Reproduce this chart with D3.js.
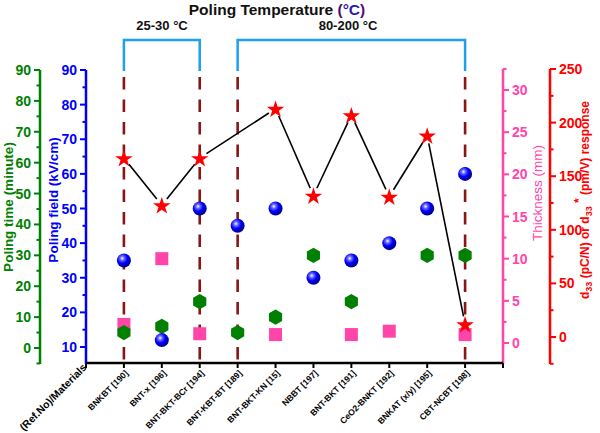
<!DOCTYPE html>
<html><head><meta charset="utf-8">
<script src="https://cdn.jsdelivr.net/npm/d3@7"></script>
<style>body{margin:0;background:#fff}svg{display:block;font-family:"Liberation Sans",Arial,sans-serif}</style>
</head><body><svg id="c" width="600" height="433"></svg>
<script>
const categories = ["BNKBT [190]","BNT-x [196]","BNT-BKT-BCr [194]","BNT-KBT-BT [189]","BNT-BKT-KN [15]","NBBT [197]","BNT-BKT [191]","CeO2-BNKT [192]","BNKAT (x/y) [195]","CBT-NCBT [198]"];
const d33 = [167,123,167,null,213,132,207,131,188,12];
const polingField = [35,12,50,45,50,30,35,40,50,60];
const polingTime = [5,7,15,5,10,30,15,null,30,30];
const thickness = [2.2,10,1.1,null,1,null,1,1.4,null,1];
const timeTicks = [0,10,20,30,40,50,60,70,80,90];
const fieldTicks = [10,20,30,40,50,60,70,80,90];
const thickTicks = [0,5,10,15,20,25,30];
const d33Ticks = [0,50,100,150,200,250];
const groups = [{label:"25-30 °C", from:0, to:2},{label:"80-200 °C", from:3, to:9}];
const dashedAt = [0,2,3,9];

const svg = d3.select("#c");
const GREEN="#008000", BLUE="#0000ff", PINK="#ff44aa", RED="#ff0000", DRED="#8b1414", SKY="#1ea0f0";
const yBot=364;
const x = d3.scaleLinear().domain([0,11]).range([86,503]);
const yTime = d3.scaleLinear().domain([0,90]).range([348,70]);
const yField = d3.scaleLinear().domain([10,90]).range([347,70]);
const yThick = d3.scaleLinear().domain([0,30]).range([343,90]);
const yD33 = d3.scaleLinear().domain([0,250]).range([337,69]);

const defs = svg.append("defs");
const rg = defs.append("radialGradient").attr("id","sph").attr("cx","0.38").attr("cy","0.35").attr("r","0.65");
rg.append("stop").attr("offset","0").attr("stop-color","#ffffff");
rg.append("stop").attr("offset","0.22").attr("stop-color","#6f6fff");
rg.append("stop").attr("offset","0.55").attr("stop-color","#0000ff");
rg.append("stop").attr("offset","1").attr("stop-color","#00008a");

function vAxis(px, scale, ticks, minorStep, color, side, bottomVal, topVal){
  const g = svg.append("g");
  g.append("line").attr("x1",px).attr("x2",px).attr("y1",scale(topVal)).attr("y2",yBot).attr("stroke",color).attr("stroke-width",2.5);
  const dir = side==="left"?-1:1;
  const lo = ticks[0];
  for(let v=lo-minorStep*Math.floor((lo-bottomVal)/minorStep); v<=topVal+1e-9; v+=minorStep){
    const major = ticks.some(t=>Math.abs(t-v)<1e-9);
    if(scale(v)>yBot) continue;
    g.append("line").attr("x1",px).attr("x2",px+dir*(major?6:3.5)).attr("y1",scale(v)).attr("y2",scale(v)).attr("stroke",color).attr("stroke-width",2);
  }
  ticks.forEach(t=>{
    g.append("text").attr("x",px+dir*9).attr("y",scale(t)).attr("dy","0.36em")
      .attr("text-anchor",side==="left"?"end":"start").attr("fill",color)
      .attr("font-size",14).attr("font-weight","bold").text(t);
  });
}
vAxis(40, yTime, timeTicks, 5, GREEN, "left", -5, 90);
vAxis(86, yField, fieldTicks, 5, BLUE, "left", 5, 90);
vAxis(503, yThick, thickTicks, 2.5, PINK, "right", -2.5, 32.5);
vAxis(550, yD33, d33Ticks, 25, RED, "right", -25, 250);

function vTitle(px, cy, color, weight, build){
  const t = svg.append("text").attr("transform",`translate(${px},${cy}) rotate(-90)`).attr("text-anchor","middle")
    .attr("fill",color).attr("font-size",13.5).attr("font-weight",weight);
  build(t);
}
vTitle(13, 207, GREEN, "bold", t=>t.text("Poling time (minute)"));
vTitle(58, 200, BLUE, "bold", t=>t.text("Poling field (kV/cm)"));
vTitle(542, 193, PINK, "normal", t=>t.text("Thickness (mm)"));
vTitle(589, 200, RED, "bold", t=>{
  t.attr("font-size",12);
  t.append("tspan").text("d");
  t.append("tspan").attr("font-size",9).attr("dy",3).text("33");
  t.append("tspan").attr("dy",-3).text(" (pC/N) or d");
  t.append("tspan").attr("font-size",9).attr("dy",3).text("33");
  t.append("tspan").attr("font-size",12).attr("dy",-9).text(" *");
  t.append("tspan").attr("dy",6).text(" (pm/V) response");
});

dashedAt.forEach(i=>{
  svg.append("line").attr("x1",x(i+1)).attr("x2",x(i+1)).attr("y1",77).attr("y2",363)
    .attr("stroke",DRED).attr("stroke-width",2.6).attr("stroke-dasharray","12.5,10");
});

groups.forEach(gp=>{
  const x0=x(gp.from+1), x1=x(gp.to+1);
  svg.append("path").attr("d",`M${x0},71V40H${x1}V71`).attr("fill","none").attr("stroke",SKY).attr("stroke-width",2.5);
  svg.append("text").attr("x",(gp.from===0?162:348)).attr("y",30).attr("text-anchor","middle")
    .attr("font-size",13).attr("font-weight","bold").attr("fill","#111").text(gp.label);
});

const tt = svg.append("text").attr("x",277).attr("y",15).attr("text-anchor","middle").attr("font-size",15.5).attr("font-weight","bold").attr("fill","#111");
tt.append("tspan").text("Poling Temperature ");
tt.append("tspan").attr("fill","#4a0a6a").text("(");
tt.append("tspan").attr("fill","#2a1ab0").text("°C");
tt.append("tspan").attr("fill","#5a0a7a").text(")");

svg.append("line").attr("x1",86).attr("x2",503).attr("y1",363).attr("y2",363).attr("stroke","#000").attr("stroke-width",2.5);
for(let i=0;i<=11;i++){
  svg.append("line").attr("x1",x(i)).attr("x2",x(i)).attr("y1",363).attr("y2",368).attr("stroke","#000").attr("stroke-width",2);
}
categories.forEach((c,i)=>{
  svg.append("text").attr("transform",`translate(${x(i+1)+3},${372}) rotate(-45)`).attr("text-anchor","end")
    .attr("font-size",8.6).attr("font-weight","bold").attr("fill","#000").attr("dy","0.3em").text(c);
});
svg.append("text").attr("transform",`translate(${85},${366}) rotate(-45)`).attr("text-anchor","end")
  .attr("font-size",10.5).attr("font-weight","bold").attr("fill","#000").attr("dy","0.3em").text("(Ref.No)/Materials");

const pts = d33.map((v,i)=>v==null?null:[x(i+1),yD33(v)]).filter(p=>p);
const gap=8;
for(let k=0;k<pts.length-1;k++){
  const [ax,ay]=pts[k],[bx,by]=pts[k+1];
  const L=Math.hypot(bx-ax,by-ay), ux=(bx-ax)/L, uy=(by-ay)/L;
  svg.append("line").attr("x1",ax+ux*gap).attr("y1",ay+uy*gap).attr("x2",bx-ux*gap).attr("y2",by-uy*gap)
    .attr("stroke","#000").attr("stroke-width",1.6);
}

svg.append("g").selectAll("rect").data(thickness.map((v,i)=>({v,i})).filter(d=>d.v!=null)).join("rect")
  .attr("x",d=>x(d.i+1)-6.5).attr("y",d=>yThick(d.v)-6.5).attr("width",13).attr("height",13).attr("fill",PINK);
const hex = r=>{const p=[];for(let k=0;k<6;k++){const a=Math.PI/2+k*Math.PI/3;p.push([r*Math.cos(a),r*Math.sin(a)]);}return "M"+p.map(q=>q.join(",")).join("L")+"Z";};
svg.append("g").selectAll("path").data(polingTime.map((v,i)=>({v,i})).filter(d=>d.v!=null)).join("path")
  .attr("transform",d=>`translate(${x(d.i+1)},${yTime(d.v)})`).attr("d",hex(7.6)).attr("fill",GREEN);
svg.append("g").selectAll("circle").data(polingField.map((v,i)=>({v,i}))).join("circle")
  .attr("cx",d=>x(d.i+1)).attr("cy",d=>yField(d.v)).attr("r",7).attr("fill","url(#sph)");
const star = d3.symbol().type(d3.symbolStar).size(95);
svg.append("g").selectAll("path").data(d33.map((v,i)=>({v,i})).filter(d=>d.v!=null)).join("path")
  .attr("transform",d=>`translate(${x(d.i+1)},${yD33(d.v)+1})`).attr("d",star).attr("fill",RED);
</script></body></html>
